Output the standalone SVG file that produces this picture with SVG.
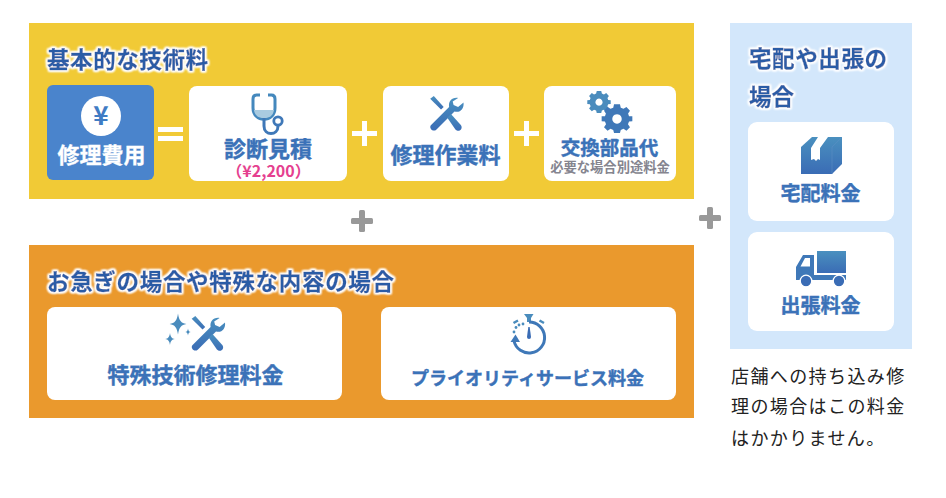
<svg xmlns="http://www.w3.org/2000/svg" width="946" height="498" viewBox="0 0 946 498">
<defs>
<linearGradient id="ig" x1="0" y1="0" x2="0" y2="1"><stop offset="0" stop-color="#4a90bf"/><stop offset="1" stop-color="#3a6cb5"/></linearGradient>
<filter id="glow" x="-10%" y="-40%" width="120%" height="180%"><feMorphology in="SourceAlpha" operator="dilate" radius="1.200"/><feGaussianBlur stdDeviation="1.300" result="b"/><feFlood flood-color="#fff"/><feComposite in2="b" operator="in" result="w"/><feMerge><feMergeNode in="w"/><feMergeNode in="w"/><feMergeNode in="w"/><feMergeNode in="SourceGraphic"/></feMerge></filter>
<g id="tools"><path d="M-17-18L-13-21-2-9-5-6Z" fill="url(#ig)"/><path d="M14-19C7-20 3-15 4-9L-16 11C-19 14-14 20-10 16L10-4C16-2 21-7 20-14L14-9 9-11 8-15Z" fill="url(#ig)"/><path d="M2 3L6-1 17 11C20 15 15 20 11 16Z" fill="url(#ig)"/></g>
<path id="gear" fill-rule="evenodd" d="M-2.500-10.500H2.500L3.200-7.600 5.500-6.600 8-8.200 11-5 9.400-2.700 10.200-.4 13-.2V4L10.200 4.200 9.300 6.500 11 9 8 12 5.500 10.400 3.200 11.300 2.500 14H-2.500L-3.200 11.300-5.500 10.400-8 12-11 9-9.300 6.500-10.200 4.200-13 4V-.2L-10.200-.4-9.400-2.700-11-5-8-8.200-5.500-6.600-3.200-7.600ZM0-2A4 4 0 1 0 .01-2Z"/>
<path id="spark" d="M0-10C1-3 3-1 8 0 3 1 1 3 0 10-1 3-3 1-8 0-3-1-1-3 0-10Z" fill="#4a8cbd"/>
</defs>
<style>
text{font-family:"Noto Sans CJK JP","Noto Sans",sans-serif;font-weight:700}
.title{fill:#2c5ba6;font-size:22.500px;stroke:#2c5ba6;stroke-width:.35px;filter:url(#glow)}
.label{fill:#3b72b8;stroke:#3b72b8;stroke-width:.4px;text-anchor:middle}
.card{fill:#fff}
.sym{fill:#fff}
.gp{fill:#999}
.body{font-weight:400;font-size:18px;fill:#222;letter-spacing:1.400px}
</style>
<rect x="29" y="23" width="665" height="176" fill="#f1ca36"/>
<rect x="29" y="245" width="665" height="173" fill="#ea992d"/>
<rect x="730" y="23" width="182" height="326" fill="#d3e7fb"/>

<text class="title" x="47" y="68" textLength="161">基本的な技術料</text>
<text class="title" x="47" y="290" textLength="347">お急ぎの場合や特殊な内容の場合</text>
<text class="title" x="749" y="67" textLength="138">宅配や出張の</text>
<text class="title" x="749" y="105" textLength="45">場合</text>

<g id="node-total">
<rect x="47" y="85" width="107" height="95" rx="6" fill="#4a84cc"/>
<circle cx="101" cy="116" r="20" fill="#fff"/>
<text x="101" y="125" font-size="26" fill="#3f7cc4" text-anchor="middle">¥</text>
<text x="101.500" y="163" font-size="22" fill="#fff" stroke="#fff" stroke-width=".3" text-anchor="middle">修理費用</text>
</g>
<g id="op-equals" class="sym"><rect x="158" y="127" width="25" height="5"/><rect x="158" y="136" width="25" height="5"/></g>

<g id="node-diagnosis">
<rect class="card" x="189" y="86" width="158" height="95" rx="8"/>
<path d="M260 95H256.500Q253 95 253 99V108C253 123 275 123 275 108V99Q275 95 271.500 95H268" fill="none" stroke="#4488bd" stroke-width="3"/>
<path d="M254 110H274C273 117 268 118 264 118 260 118 255 117 254 110Z" fill="#a9cbe0"/>
<path d="M264 118V126C264 136 278 136 278 126" fill="none" stroke="#3f78b8" stroke-width="3"/>
<circle cx="278" cy="121" r="4.200" fill="#fff" stroke="#3f78b8" stroke-width="2.800"/>
<text class="label" x="268" y="157" font-size="22">診断見積</text>
<text x="268.500" y="177" font-size="16" fill="#e5408f" text-anchor="middle">（¥2,200）</text>
</g>
<g id="op-plus-1" class="sym"><rect x="352" y="131" width="25" height="5"/><rect x="362" y="121" width="5" height="25"/></g>

<g id="node-labor">
<rect class="card" x="383" y="86" width="126" height="95" rx="8"/>
<use href="#tools" transform="translate(445.500 115) scale(.9)"/>
<text class="label" x="445.500" y="163" font-size="22">修理作業料</text>
</g>
<g id="op-plus-2" class="sym"><rect x="514" y="131" width="25" height="5"/><rect x="524" y="121" width="5" height="25"/></g>

<g id="node-parts">
<rect class="card" x="544" y="86" width="132" height="95" rx="8"/>
<use href="#gear" transform="translate(599 100.400) scale(.9)" fill="#4a8cbd"/>
<use href="#gear" transform="translate(617 116.600) scale(1.180)" fill="#3f78b8"/>
<text class="label" x="609.500" y="155" font-size="19.500">交換部品代</text>
<text x="610" y="172" font-size="13.300" fill="#85858f" text-anchor="middle">必要な場合別途料金</text>
</g>

<g id="op-plus-3" class="gp"><rect x="351" y="218" width="22" height="6" rx="1.500"/><rect x="359" y="210" width="6" height="22" rx="1.500"/></g>
<g id="op-plus-4" class="gp"><rect x="699" y="215" width="22" height="6" rx="1.500"/><rect x="707" y="207" width="6" height="22" rx="1.500"/></g>

<g id="node-special">
<rect class="card" x="47" y="307" width="295" height="93" rx="8"/>
<use href="#spark" transform="translate(178 324) scale(1.050)"/>
<use href="#spark" transform="translate(170 339) scale(.6)"/>
<use href="#spark" transform="translate(188 332) scale(.35)"/>
<use href="#tools" transform="translate(207 335) scale(.9)"/>
<text class="label" x="195.500" y="383" font-size="22">特殊技術修理料金</text>
</g>

<g id="node-priority">
<rect class="card" x="381" y="307" width="295" height="93" rx="8"/>
<path d="M524 314H533.500L531 318V322H527V318Z" fill="#4a8cbd"/>
<path d="M513.500 323L518 320.500M544 323L539.500 320.500" stroke="#4a8cbd" stroke-width="2.500" fill="none"/>
<path d="M529 322A15.500 15.500 0 1 1 514 341" fill="none" stroke="#3f78b8" stroke-width="3"/>
<path d="M515.500 334.500L510.500 342H520Z" fill="#3f78b8"/>
<path d="M528.300 327H529.700L531 337A2 2 0 1 1 527 337Z" fill="#3a6cb5"/>
<g fill="#4a8cbd"><circle cx="523" cy="324" r="1.400"/><circle cx="519" cy="325" r="1.400"/><circle cx="516" cy="327.500" r="1.400"/><circle cx="514" cy="332" r="1.400"/></g>
<text class="label" x="527.500" y="385" font-size="18">プライオリティサービス料金</text>
</g>

<g id="node-delivery">
<rect class="card" x="748" y="122" width="146" height="99" rx="9"/>
<path d="M801 147L812 137H842V164L832 174H801Z" fill="url(#ig)"/>
<path d="M818 137H828L820 148V160L818 159 816 161 814 159 811 160V148Z" fill="#fff"/>
<path d="M832 147V174M832 147L842 137" stroke="#5a8fc4" stroke-width=".6" fill="none"/>
<text class="label" x="820.500" y="201" font-size="20">宅配料金</text>
</g>

<g id="node-trip">
<rect class="card" x="748" y="232" width="146" height="99" rx="9"/>
<rect x="817" y="251" width="29" height="22" fill="url(#ig)"/>
<path d="M796 280V267L803 255H814V275H846V280Z M800.500 266.500H810V258H805Z" fill="#3f78b8" fill-rule="evenodd"/>
<circle cx="806" cy="281" r="5.800" fill="#3a6cb5" stroke="#fff" stroke-width="1.300"/>
<circle cx="839" cy="281" r="5.800" fill="#3a6cb5" stroke="#fff" stroke-width="1.300"/>
<text class="label" x="820.500" y="313" font-size="20">出張料金</text>
</g>

<text class="body" x="731" y="383">店舗への持ち込み修</text>
<text class="body" x="731" y="413">理の場合はこの料金</text>
<text class="body" x="731" y="445">はかかりません。</text>
</svg>
